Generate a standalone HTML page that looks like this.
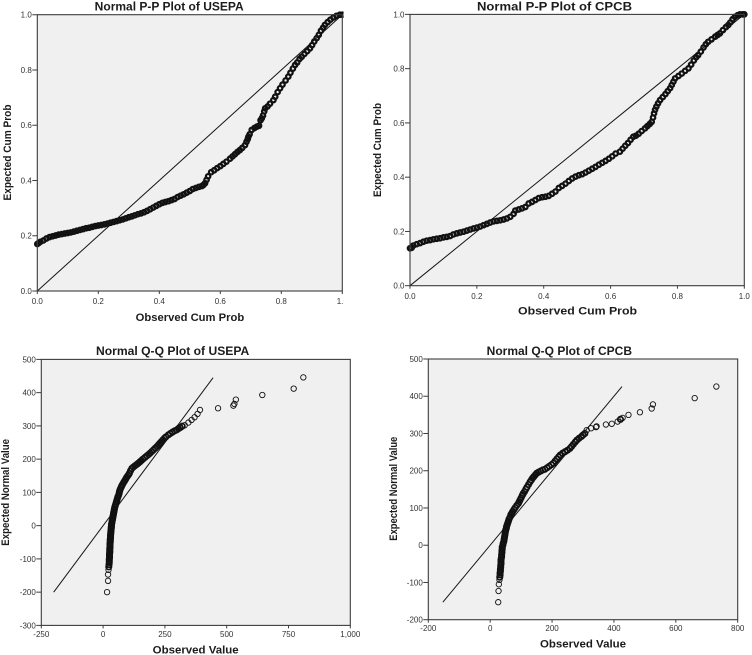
<!DOCTYPE html>
<html lang="en">
<head>
<meta charset="utf-8">
<title>Normal P-P and Q-Q plots of USEPA and CPCB</title>
<style>
html,body{margin:0;padding:0;background:#fff;width:752px;height:655px;overflow:hidden}
svg{display:block;filter:blur(.35px)}
text{font-family:"Liberation Sans",sans-serif;fill:#1c1c1c}
.title{font-size:11.5px;font-weight:bold}
.axis-title{font-size:11px;font-weight:bold}
.tick{font-size:8px;fill:#333}
</style>
</head>
<body>
<svg id="chart" xmlns="http://www.w3.org/2000/svg" width="752" height="655" viewBox="0 0 752 655">
  <defs><clipPath id="crop-left"><rect x="0" y="0" width="343.6" height="330"/></clipPath></defs>
  <g id="pp-usepa" clip-path="url(#crop-left)"></g>
  <g id="pp-cpcb"></g>
  <g id="qq-usepa"></g>
  <g id="qq-cpcb"></g>

  <text class="title" x="94.7" y="10.5" textLength="149" lengthAdjust="spacingAndGlyphs">Normal P-P Plot of USEPA</text>
  <text class="axis-title" x="135.7" y="321" textLength="108.5" lengthAdjust="spacingAndGlyphs">Observed Cum Prob</text>
  <text class="axis-title" transform="translate(11 200.5) rotate(-90)" textLength="96" lengthAdjust="spacingAndGlyphs">Expected Cum Prob</text>

  <text class="title" x="477" y="10.5" textLength="155" lengthAdjust="spacingAndGlyphs">Normal P-P Plot of CPCB</text>
  <text class="axis-title" x="518" y="314.5" textLength="119" lengthAdjust="spacingAndGlyphs">Observed Cum Prob</text>
  <text class="axis-title" transform="translate(381 197) rotate(-90)" textLength="94" lengthAdjust="spacingAndGlyphs">Expected Cum Prob</text>

  <text class="title" x="96" y="355" textLength="153.3" lengthAdjust="spacingAndGlyphs">Normal Q-Q Plot of USEPA</text>
  <text class="axis-title" x="152.7" y="653.5" textLength="86" lengthAdjust="spacingAndGlyphs">Observed Value</text>
  <text class="axis-title" transform="translate(9 545.7) rotate(-90)" textLength="106.7" lengthAdjust="spacingAndGlyphs">Expected Normal Value</text>

  <text class="title" x="486.7" y="355" textLength="145.3" lengthAdjust="spacingAndGlyphs">Normal Q-Q Plot of CPCB</text>
  <text class="axis-title" x="540" y="647.5" textLength="86" lengthAdjust="spacingAndGlyphs">Observed Value</text>
  <text class="axis-title" transform="translate(397 540.7) rotate(-90)" textLength="104" lengthAdjust="spacingAndGlyphs">Expected Normal Value</text>
</svg>

<script>
// ---- tick labels ----
const ppTicks = ["0.0","0.2","0.4","0.6","0.8","1.0"];
const qq1XTicks = ["-250","0","250","500","750","1,000"];
const qq1YTicks = ["-300","-200","-100","0","100","200","300","400","500"];
const qq2XTicks = ["-200","0","200","400","600","800"];
const qq2YTicks = ["-200","-100","0","100","200","300","400","500"];

// ---- reference lines ----
const ppRefLine = [0, 1];
const qq1RefLine = [-200, 445];
const qq2RefLine = [-153, 426];

// ---- P-P USEPA: [observed, expected] ----
const pp1Points = [[0,.17],[.005,.174],[.01,.178],[.02,.183],[.03,.19],[.04,.195],[.05,.198],[.06,.201],[.07,.204],[.08,.206],[.09,.208],[.10,.21],[.11,.212],[.12,.215],[.13,.218],[.14,.221],[.15,.224],[.16,.227],[.17,.229],[.18,.232],[.19,.235],[.20,.237],[.21,.239],[.22,.241],[.23,.244],[.24,.247],[.25,.25],[.26,.253],[.27,.256],[.28,.259],[.29,.263],[.30,.267],[.31,.27],[.32,.274],[.33,.278],[.34,.281],[.35,.285],[.36,.29],[.37,.296],[.38,.302],[.39,.308],[.40,.314],[.41,.319],[.42,.322],[.43,.325],[.44,.329],[.45,.333],[.46,.34],[.47,.345],[.48,.35],[.49,.356],[.50,.362],[.51,.369],[.52,.373],[.53,.377],[.54,.38],[.545,.384],[.55,.39],[.555,.402],[.56,.415],[.57,.43],[.58,.437],[.59,.445],[.60,.452],[.61,.46],[.62,.468],[.632,.479],[.64,.487],[.648,.495],[.656,.503],[.664,.51],[.672,.518],[.681,.528],[.686,.54],[.69,.55],[.692,.558],[.696,.567],[.703,.583],[.712,.59],[.72,.595],[.727,.598],[.732,.618],[.736,.625],[.74,.635],[.744,.65],[.747,.661],[.755,.668],[.763,.678],[.774,.691],[.78,.703],[.788,.72],[.796,.734],[.804,.747],[.814,.762],[.823,.776],[.83,.79],[.838,.805],[.845,.818],[.852,.827],[.86,.84],[.867,.848],[.876,.858],[.885,.868],[.894,.878],[.901,.89],[.908,.903],[.916,.915],[.923,.927],[.93,.942],[.937,.953],[.943,.963],[.952,.973],[.961,.982],[.971,.99],[.981,.996],[.992,1],[1,1]];

// ---- P-P CPCB: [observed, expected] ----
const pp2Points = [[0,.138],[.005,.14],[.01,.148],[.02,.153],[.03,.157],[.04,.162],[.05,.166],[.06,.168],[.07,.171],[.08,.173],[.09,.175],[.10,.178],[.11,.18],[.12,.183],[.13,.189],[.14,.193],[.15,.196],[.16,.199],[.17,.203],[.18,.207],[.19,.211],[.20,.214],[.21,.218],[.22,.223],[.23,.228],[.24,.233],[.25,.237],[.26,.239],[.27,.241],[.28,.244],[.29,.248],[.30,.254],[.31,.265],[.315,.277],[.325,.281],[.335,.285],[.345,.29],[.355,.303],[.365,.309],[.375,.316],[.385,.323],[.395,.326],[.405,.328],[.415,.331],[.425,.339],[.435,.347],[.445,.36],[.455,.368],[.465,.376],[.475,.386],[.485,.395],[.495,.402],[.505,.407],[.515,.411],[.525,.417],[.535,.424],[.545,.431],[.555,.438],[.565,.446],[.575,.453],[.585,.46],[.595,.468],[.605,.477],[.615,.487],[.628,.494],[.636,.505],[.644,.516],[.652,.526],[.66,.538],[.668,.549],[.676,.553],[.684,.56],[.693,.57],[.703,.58],[.71,.588],[.717,.596],[.723,.604],[.727,.62],[.73,.635],[.733,.648],[.737,.66],[.742,.672],[.748,.684],[.756,.695],[.764,.706],[.771,.717],[.778,.728],[.783,.74],[.788,.752],[.793,.764],[.803,.773],[.813,.782],[.823,.792],[.833,.801],[.841,.815],[.849,.83],[.856,.842],[.862,.85],[.87,.863],[.878,.878],[.885,.89],[.892,.899],[.902,.908],[.913,.918],[.92,.924],[.927,.93],[.936,.942],[.945,.953],[.952,.961],[.958,.97],[.965,.982],[.972,.991],[.98,.997],[.987,1],[.995,1],[1,1]];

// ---- Q-Q USEPA: [observed, expected] ----
const qq1Points = [[16,-200],[20,-166],[20,-147],[22,-133],[23,-124],[24,-117],[25,-111],[25,-106],[25,-101],[26,-97],[26,-93],[26,-89],[26,-85],[27,-81],[27,-77],[27,-73],[27,-69],[28,-65],[28,-61],[28,-57],[28,-53],[29,-49],[29,-45],[29,-41],[30,-37],[30,-33],[30,-29],[31,-25],[31,-21],[32,-17],[32,-13],[33,-9],[33,-5],[34,-1],[34,3],[35,7],[36,11],[37,15],[38,19],[39,23],[40,27],[41,31],[42,35],[43,39],[44,43],[45,47],[46,51],[48,57],[50,62],[52,67],[54,72],[56,77],[58,82],[60,87],[63,92],[65,97],[66,102],[68,107],[71,112],[74,117],[77,122],[81,127],[85,132],[89,137],[93,142],[97,147],[102,152],[106,157],[111,165],[116,172],[122,176],[129,180],[136,184],[143,188],[149,192],[155,196],[161,200],[169,205],[177,210],[184,214],[190,218],[197,223],[204,228],[211,233],[218,238],[224,243],[230,248],[236,253],[242,258],[248,263],[254,267],[264,273],[272,277],[280,281],[289,285],[298,288],[305,292],[312,295],[320,299],[330,302],[345,310],[358,318],[370,326],[382,336],[392,348],[465,353],[527,361],[531,366],[537,379],[644,393],[771,412],[810,446]];

// ---- Q-Q CPCB: [observed, expected] ----
const qq2Points = [[26,-153],[27,-123],[28,-105],[30,-93],[31,-86],[32,-80],[32,-75],[33,-70],[33,-65],[34,-60],[34,-55],[35,-50],[35,-45],[35,-40],[36,-35],[37,-30],[37,-25],[38,-20],[38,-15],[39,-10],[39,-5],[41,0],[42,5],[44,10],[45,15],[46,20],[47,25],[48,30],[49,35],[50,40],[52,45],[53,50],[55,55],[57,60],[59,65],[61,70],[64,75],[67,82],[70,86],[73,91],[77,96],[81,101],[86,107],[91,112],[94,117],[97,122],[100,127],[104,134],[107,139],[111,144],[115,150],[119,156],[124,163],[129,170],[133,175],[137,180],[141,184],[146,189],[150,193],[156,196],[163,199],[170,202],[177,204],[184,208],[191,212],[198,216],[204,220],[210,226],[216,232],[221,237],[226,242],[234,247],[242,251],[250,255],[258,260],[263,265],[269,271],[275,277],[280,282],[287,287],[295,292],[300,296],[306,300],[312,309],[326,314],[342,317],[344,319],[374,324],[393,326],[412,332],[421,338],[428,342],[447,350],[484,357],[522,367],[526,378],[661,395],[731,426]];

const svgNS = "http://www.w3.org/2000/svg";

function make(parent, tag, attrs, text) {
  const el = document.createElementNS(svgNS, tag);
  for (const k in attrs) el.setAttribute(k, attrs[k]);
  if (text !== undefined) el.textContent = text;
  parent.appendChild(el);
  return el;
}

function numeric(label) {
  return parseFloat(label.replace(",", ""));
}

function linear(d0, d1, r0, r1) {
  return v => r0 + (v - d0) * (r1 - r0) / (d1 - d0);
}

function drawPanel(id, box, xTicks, yTicks, refLine, points, marker, labelGap) {
  const g = document.getElementById(id);
  const xv = xTicks.map(numeric), yv = yTicks.map(numeric);
  const sx = linear(xv[0], xv[xv.length - 1], box.left, box.right);
  const sy = linear(yv[0], yv[yv.length - 1], box.bottom, box.top);

  const bg = make(g, "rect", {x: box.left, y: box.top, width: box.right - box.left, height: box.bottom - box.top, fill: "#f0f0f0"});
  
  

  const ref = make(g, "line", {x1: sx(refLine[0]), y1: sy(refLine[0]), x2: sx(refLine[1]), y2: sy(refLine[1]), stroke: "#151515", "stroke-width": 1});
  
  

  const gapTo = (i, j) => {
    if (j < 0 || j >= points.length) return 0;
    return Math.hypot(sx(points[i][0]) - sx(points[j][0]), sy(points[i][1]) - sy(points[j][1]));
  };
  points.forEach((p, i) => {
    // overlapping markers merge into a solid dark band; isolated ones stay thin
    const dense = Math.max(gapTo(i, i - 1), gapTo(i, i + 1)) < marker.denseGap;
    const c = make(g, "circle", {cx: sx(p[0]), cy: sy(p[1]), r: marker.r, fill: "none", stroke: "#111", "stroke-width": dense ? marker.denseWidth : marker.width});
    
    
  });

  const frame = make(g, "rect", {x: box.left, y: box.top, width: box.right - box.left, height: box.bottom - box.top, fill: "none", stroke: "#3c3c3c", "stroke-width": 1.1});
  
  

  xTicks.forEach((label, i) => {
    const x = sx(xv[i]);
    const t = make(g, "line", {x1: x, y1: box.bottom, x2: x, y2: box.bottom + 3, stroke: "#3c3c3c", "stroke-width": 1});
    
    
    const l = make(g, "text", {class: "tick", x: x, y: box.bottom + labelGap, "text-anchor": "middle"}, label);
    
    
  });

  yTicks.forEach((label, i) => {
    const y = sy(yv[i]);
    const t = make(g, "line", {x1: box.left - 5, y1: y, x2: box.left, y2: y, stroke: "#3c3c3c", "stroke-width": 1});
    
    
    const l = make(g, "text", {class: "tick", x: box.left - 5.5, y: y + 3, "text-anchor": "end"}, label);
    
    
  });
}

const ppMarker = {r: 2.25, width: 2.2, denseWidth: 2.2, denseGap: 4};
const qqMarker = {r: 2.7, width: .9, denseWidth: 1.7, denseGap: 4};

drawPanel("pp-usepa", {left: 37.3, right: 342.3, top: 14.7, bottom: 291}, ppTicks, ppTicks, ppRefLine, pp1Points, ppMarker, 13);
drawPanel("pp-cpcb", {left: 410, right: 744.3, top: 14.4, bottom: 285.7}, ppTicks, ppTicks, ppRefLine, pp2Points, ppMarker, 13.3);
drawPanel("qq-usepa", {left: 41.3, right: 350.3, top: 359.4, bottom: 625.4}, qq1XTicks, qq1YTicks, qq1RefLine, qq1Points, qqMarker, 11.6);
drawPanel("qq-cpcb", {left: 428.3, right: 737.7, top: 359, bottom: 619.7}, qq2XTicks, qq2YTicks, qq2RefLine, qq2Points, qqMarker, 11.3);
</script>
</body>
</html>
